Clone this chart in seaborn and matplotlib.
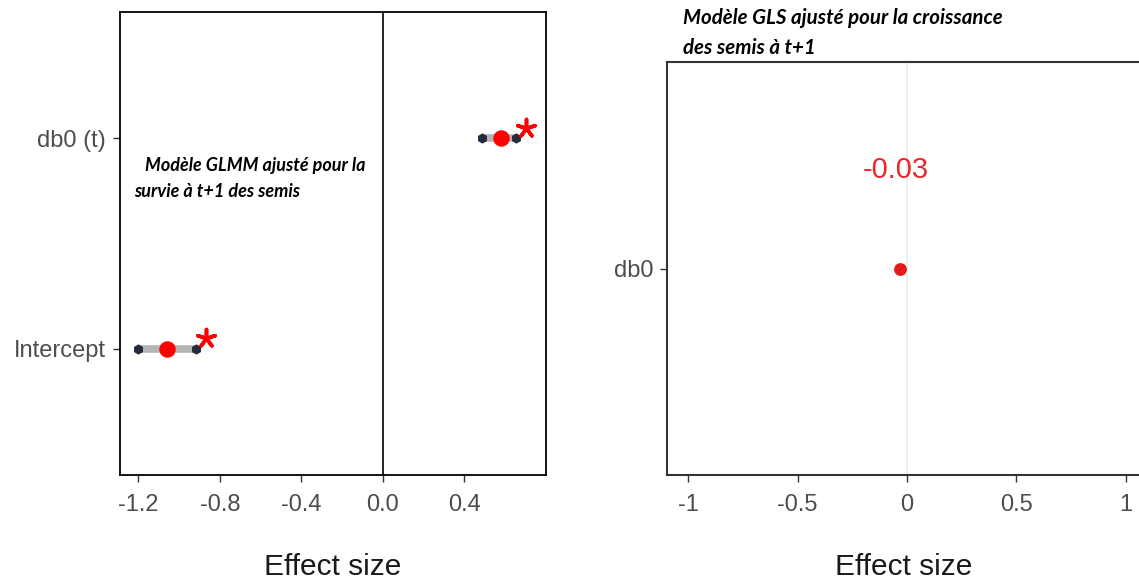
import numpy as np
import pandas as pd
import matplotlib
matplotlib.use("Agg")
import matplotlib.pyplot as plt
import seaborn as sns

# valeurs
terms_glmm = ["db0 (t)", "Intercept"]
est_glmm = [0.58, -1.06]
low_glmm = [0.485, -1.20]
high_glmm = [0.655, -0.915]

terms_gls = ["db0"]
est_gls = [-0.03]
label_gls = ["-0.03"]

ticks_glmm = [-1.2, -0.8, -0.4, 0.0, 0.4]
ticks_gls = [-1, -0.5, 0, 0.5, 1]
tick_lbl_gls = ["-1", "-0.5", "0", "0.5", "1"]

sns.set_theme(style="ticks")
plt.rcParams['font.family'] = ['Liberation Sans', 'DejaVu Sans']

W, H = 1139, 582
fig = plt.figure(figsize=(W / 100, H / 100), dpi=100)

red = "#ff0000"
navy = "#262b3d"


def style_axis(ax, spine_col, lw):
    for s in ax.spines.values():
        s.set_color(spine_col)
        s.set_linewidth(lw)
    ax.tick_params(axis="both", labelsize=17, labelcolor="#4d4d4d", length=5,
                   width=1, color="#333333", direction="out", pad=5,
                   bottom=True, left=True)
    ax.tick_params(axis="x", pad=9)
    ax.set_xlabel("Effect size", fontsize=21.5, color="#1a1a1a", labelpad=26)
    ax.set_ylabel("")


# 1. GLMM (survie)
df1 = pd.DataFrame({"term": terms_glmm, "est": est_glmm, "low": low_glmm,
                    "high": high_glmm})
df1["pos"] = np.arange(len(df1))
ends = pd.concat([df1[["pos", "low"]].rename(columns={"low": "val"}),
                  df1[["pos", "high"]].rename(columns={"high": "val"})])

ax1 = fig.add_axes([120 / W, 1 - 475 / H, 426 / W, 463 / H])
ax1.axvline(0, color="black", lw=1.2, zorder=1)
ax1.hlines(df1["pos"], df1["low"], df1["high"], color="#b5b5b5", lw=5.5, zorder=2)
sns.scatterplot(data=ends, x="val", y="pos", color=navy, s=55, marker="h",
                linewidth=0, ax=ax1, zorder=3)
sns.scatterplot(data=df1, x="est", y="pos", color=red, s=140, linewidth=0,
                ax=ax1, zorder=4)
# étoiles de significativité
sns.scatterplot(x=df1["high"] + 0.045, y=df1["pos"] - 0.05, marker=(5, 2, 0),
                color=red, edgecolor=red, s=170, linewidth=2.6, ax=ax1, zorder=5)
ax1.set_xlim(-1.29, 0.80)
ax1.set_ylim(len(df1) - 0.4, -0.6)
ax1.set_xticks(ticks_glmm, [f"{t:.1f}" for t in ticks_glmm])
ax1.set_yticks(df1["pos"], df1["term"])
style_axis(ax1, "black", 1.3)

# 2. GLS (croissance)
df2 = pd.DataFrame({"term": terms_gls, "est": est_gls, "lab": label_gls})
df2["pos"] = np.arange(len(df2))

ax2 = fig.add_axes([667 / W, 1 - 475 / H, 473 / W, 413 / H])
ax2.axvline(0, color="#ebebeb", lw=1.2, zorder=1)
sns.scatterplot(data=df2, x="est", y="pos", color="#e41a1c", s=85, linewidth=0,
                ax=ax2, zorder=3)
for _, r in df2.iterrows():
    ax2.annotate(r["lab"], (r["est"], r["pos"]), xytext=(-3, 71),
                 textcoords="offset points", ha="center", va="center",
                 fontsize=21, color="#e8262b")
ax2.set_xlim(-1.096, 1.064)
ax2.set_ylim(1, -1)
ax2.set_xticks(ticks_gls, tick_lbl_gls)
ax2.set_yticks(df2["pos"], df2["term"])
style_axis(ax2, "#333333", 1.5)
ax2.spines["right"].set_visible(False)

# titres en gras italique
bi = dict(family=["Lato", "Open Sans", "DejaVu Sans"], weight="bold",
          style="italic", color="black", va="center", ha="left")
fig.text(145 / W, 1 - 165 / H, "Modèle GLMM ajusté pour la", fontsize=13, **bi)
fig.text(134 / W, 1 - 192 / H, "survie à t+1 des semis", fontsize=13, **bi)
fig.text(683 / W, 1 - 18 / H, "Modèle GLS ajusté pour la croissance", fontsize=14.8, **bi)
fig.text(683 / W, 1 - 48 / H, "des semis à t+1", fontsize=14.8, **bi)

fig.savefig("out.png", dpi=100)
